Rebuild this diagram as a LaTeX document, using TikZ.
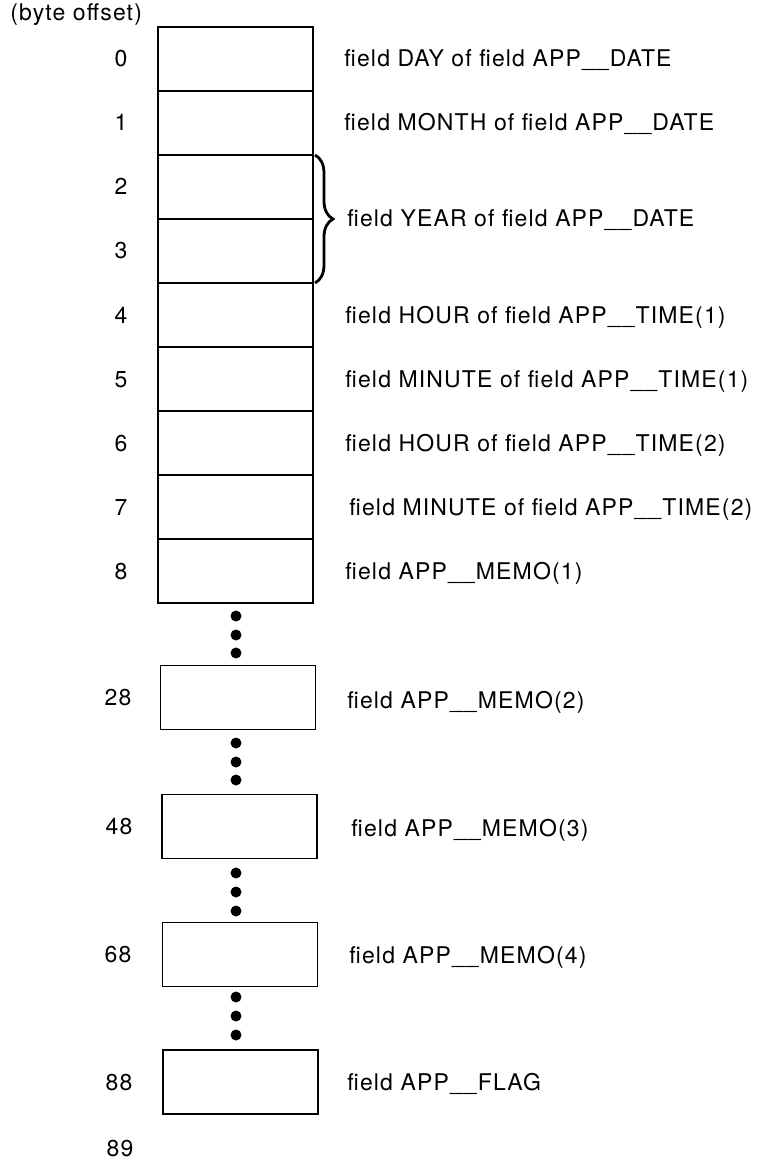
\documentclass[tikz,border=0pt]{standalone}
\usepackage{fontspec}
\setmainfont[LetterSpace=5]{TeX Gyre Heros}
\usetikzlibrary{positioning,decorations.pathreplacing}

\tikzset{
  cell/.style={draw, line width=0.9pt, minimum width=77.5pt, minimum height=32pt,
    inner sep=0pt, outer sep=0pt},
  blob/.style={circle, fill, inner sep=0pt, minimum size=5.5pt},
  offs/.style={anchor=base, font=\fontsize{11.5}{13}\selectfont},
  lbl/.style={anchor=base west, inner sep=0pt, font=\fontsize{11.5}{13}\selectfont}
}

\begin{document}
\begin{tikzpicture}[x=0.5pt, y=-0.5pt]
\useasboundingbox (0,0) rectangle (761,1160);

% record layout, one box per byte
\node[cell] (b0) at (235.5,59) {};
\node[cell, below=0pt of b0] (b1) {};
\node[cell, below=0pt of b1] (b2) {};
\node[cell, below=0pt of b2] (b3) {};
\node[cell, below=0pt of b3] (b4) {};
\node[cell, below=0pt of b4] (b5) {};
\node[cell, below=0pt of b5] (b6) {};
\node[cell, below=0pt of b6] (b7) {};
\node[cell, below=0pt of b7] (b8) {};
\node[cell] (b28) at (238,697.5) {};
\node[cell] (b48) at (239.5,826.5) {};
\node[cell] (b68) at (240,954.5) {};
\node[cell] (b88) at (240.5,1082) {};

% skipped bytes
\foreach \y in {616,635,653, 743,762,780, 873,892,911, 997,1016,1035}
  \node[blob] at (236,\y) {};

% byte offsets
\node[lbl] (head) at (10,21) {(byte offset)};
\node[offs] (o0) at (121,67) {0};
\node[offs] (o1) at (121,131) {1};
\node[offs] (o2) at (121,195) {2};
\node[offs] (o3) at (121,259) {3};
\node[offs] (o4) at (121,323) {4};
\node[offs] (o5) at (121,387) {5};
\node[offs] (o6) at (121,451) {6};
\node[offs] (o7) at (121,515) {7};
\node[offs] (o8) at (121,579) {8};
\node[offs] (o28) at (118,705) {28};
\node[offs] (o48) at (119,834) {48};
\node[offs] (o68) at (118,962) {68};
\node[offs] (o88) at (119,1090) {88};
\node[offs] (o89) at (120,1156) {89};

% YEAR takes two bytes
\draw[decorate, decoration={brace, amplitude=9pt}, line width=1.4pt]
  ([xshift=1pt]b2.north east) -- ([xshift=1pt]b3.south east);

% field names
\node[lbl] (f0) at (344,67) {field DAY of field APP\_\_DATE};
\node[lbl] (f1) at (344,131) {field MONTH of field APP\_\_DATE};
\node[lbl] (f2) at (347,227) {field YEAR of field APP\_\_DATE};
\node[lbl] (f4) at (345,323) {field HOUR of field APP\_\_TIME(1)};
\node[lbl] (f5) at (345,387) {field MINUTE of field APP\_\_TIME(1)};
\node[lbl] (f6) at (345,451) {field HOUR of field APP\_\_TIME(2)};
\node[lbl] (f7) at (349,515) {field MINUTE of field APP\_\_TIME(2)};
\node[lbl] (f8) at (345,579) {field APP\_\_MEMO(1)};
\node[lbl] (f28) at (347,708) {field APP\_\_MEMO(2)};
\node[lbl] (f48) at (351,836) {field APP\_\_MEMO(3)};
\node[lbl] (f68) at (349,963) {field APP\_\_MEMO(4)};
\node[lbl] (f88) at (347,1090) {field APP\_\_FLAG};
\end{tikzpicture}
\end{document}
